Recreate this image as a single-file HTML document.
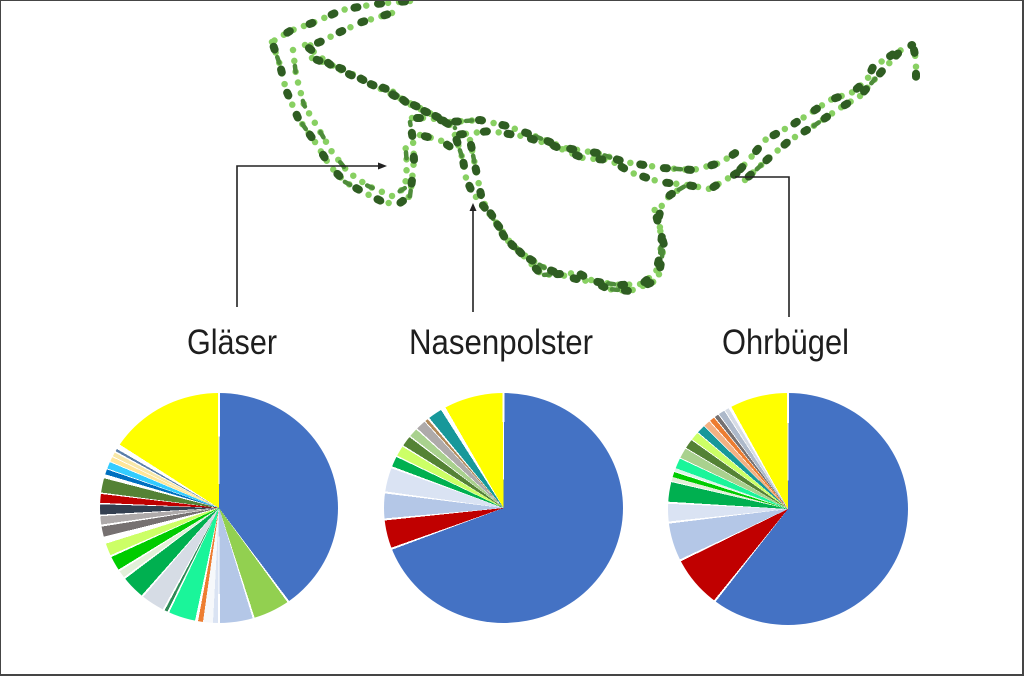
<!DOCTYPE html>
<html>
<head>
<meta charset="utf-8">
<style>
  html,body{margin:0;padding:0;background:#fff;}
  #wrap{position:relative;width:1024px;height:676px;overflow:hidden;background:#fff;}
  #frame{position:absolute;left:0;top:0;width:1021px;height:673px;border-style:solid;border-color:#454545;border-width:1px 2px 2px 1px;}
  .pie{position:absolute;border-radius:50%;}
  #p1{left:100px;top:393px;width:238px;height:230px;
    background:conic-gradient(from 0deg,
      #fff 0deg 0.6deg,#4472C4 0.6deg 143deg,#fff 143deg 144deg,
      #92D050 144deg 162deg,#fff 162deg 163deg,
      #B4C7E7 163deg 179.5deg,#fff 179.5deg 180.5deg,
      #DAE3F3 180.5deg 183deg,#F6F8FB 183deg 188deg,
      #ED7D31 188deg 190.5deg,#fff 190.5deg 192deg,
      #1AF59A 192deg 205.5deg,#fff 205.5deg 206.5deg,
      #2E8B57 206.5deg 208deg,#fff 208deg 209deg,
      #D6DCE5 209deg 220.5deg,#fff 220.5deg 221.5deg,
      #00B050 221.5deg 233deg,#fff 233deg 234deg,
      #E2F0D9 234deg 237.5deg,#fff 237.5deg 238.5deg,
      #00CC00 238.5deg 245.5deg,#fff 245.5deg 246.5deg,
      #CCFF66 246.5deg 252.5deg,#fff 252.5deg 256deg,
      #767171 256deg 261deg,#fff 261deg 262deg,
      #AEAAAA 262deg 266deg,#fff 266deg 266.8deg,
      #333F50 266.8deg 271.8deg,#fff 271.8deg 272.5deg,
      #C00000 272.5deg 276.8deg,#fff 276.8deg 277.5deg,
      #548235 277.5deg 284.5deg,#fff 284.5deg 286.5deg,
      #0070C0 286.5deg 289deg,#fff 289deg 289.5deg,
      #33CCFF 289.5deg 292.8deg,#fff 292.8deg 293.3deg,
      #FFE699 293.3deg 295.5deg,#fff 295.5deg 296deg,
      #F8E8A8 296deg 298deg,#fff 298deg 298.8deg,
      #5B7FA8 298.8deg 300deg,#fff 300deg 302.6deg,
      #FFFF00 302.6deg 359.4deg,#fff 359.4deg 360deg);}
  #p2{left:384px;top:393px;width:239px;height:230px;
    background:conic-gradient(from 0deg,
      #fff 0deg 0.5deg,#4472C4 0.5deg 249.5deg,#fff 249.5deg 250.5deg,
      #C00000 250.5deg 264deg,#fff 264deg 265deg,
      #B4C7E7 265deg 277deg,#fff 277deg 278deg,
      #DAE3F3 278deg 289.5deg,#fff 289.5deg 290.5deg,
      #00B050 290.5deg 295.5deg,#fff 295.5deg 296.2deg,
      #CCFF66 296.2deg 301.3deg,#fff 301.3deg 302deg,
      #548235 302deg 307deg,#fff 307deg 307.7deg,
      #A9D18E 307.7deg 312deg,#fff 312deg 312.7deg,
      #AEAAAA 312.7deg 317.5deg,#fff 317.5deg 318deg,
      #B0895A 318deg 319.5deg,#fff 319.5deg 320.5deg,
      #17989A 320.5deg 327.5deg,#fff 327.5deg 330deg,
      #FFFF00 330deg 359.5deg,#fff 359.5deg 360deg);}
  #p3{left:668px;top:393px;width:240px;height:232px;
    background:conic-gradient(from 0deg,
      #fff 0deg 0.5deg,#4472C4 0.5deg 218deg,#fff 218deg 219deg,
      #C00000 219deg 244deg,#fff 244deg 245deg,
      #B4C7E7 245deg 263deg,#fff 263deg 264deg,
      #DAE3F3 264deg 272.5deg,#fff 272.5deg 273.5deg,
      #00B050 273.5deg 283deg,#fff 283deg 283.5deg,
      #E2F0D9 283.5deg 285.5deg,#00CC00 285.5deg 288deg,
      #fff 288deg 288.5deg,#DDF5EA 288.5deg 290deg,
      #1AF59A 290deg 295deg,#fff 295deg 295.5deg,
      #A9D18E 295.5deg 300.5deg,#fff 300.5deg 301deg,
      #548235 301deg 305.5deg,#fff 305.5deg 306deg,
      #CCFF66 306deg 310deg,#fff 310deg 310.5deg,
      #17989A 310.5deg 314.5deg,#fff 314.5deg 315deg,
      #F4B183 315deg 318deg,#fff 318deg 318.5deg,
      #ED7D31 318.5deg 321deg,#fff 321deg 321.5deg,
      #767171 321.5deg 323.5deg,#fff 323.5deg 324deg,
      #ADB9CA 324deg 327deg,#fff 327deg 327.5deg,
      #D6DCE5 327.5deg 329.5deg,#fff 329.5deg 331deg,
      #FFFF00 331deg 359.5deg,#fff 359.5deg 360deg);}
  svg{position:absolute;left:0;top:0;}
  .l{fill:none;stroke:#88D062;stroke-width:6.5;stroke-linecap:round;stroke-linejoin:round;stroke-dasharray:0 11;}
  .d{fill:none;stroke:#2F5D22;stroke-width:8;stroke-linecap:round;stroke-dasharray:3 21;stroke-dashoffset:-5;}
  .m{fill:none;stroke:#4E8C3A;stroke-width:4.5;stroke-linecap:round;stroke-dasharray:6 30;stroke-dashoffset:-16;}
  .ln{fill:none;stroke:#222;stroke-width:1.6;}
  .t{font-family:"Liberation Sans",Arial,sans-serif;font-size:35px;fill:#1e1e1e;}
</style>
</head>
<body>
<div id="wrap">
  <div class="pie" id="p1"></div>
  <div class="pie" id="p2"></div>
  <div class="pie" id="p3"></div>

  <svg width="1024" height="676" viewBox="0 0 1024 676">
    <defs>
      <path id="A" d="M410,1 L375,4 L342,10 L315,22 L290,31 L272,42"/>
      <path id="B" d="M392,13 L362,22 L340,32 L320,42 L306,47"/>
      <path id="C" d="M272,42 L280,65 L286,90 L298,118 L315,142 L330,166 L345,182 L365,193 L385,203 L400,203 L410,196 L412,180 L414,160 L413,140 L410,122"/>
      <path id="C2" d="M293,50 L296,75 L304,105 L318,128 L332,152 L348,172 L368,186 L392,196 L405,188 L407,165 L405,140"/>
      <path id="D" d="M305,45 L332,66 L353,76 L375,86 L393,95 L420,108 L447,122"/>
      <path id="D2" d="M312,58 L345,70 L367,82 L392,91 L407,103 L433,115 L455,128"/>
      <path id="BR" d="M412,118 L430,118 L450,122 M420,135 L440,140 L452,148"/>
      <path id="E" d="M450,122 L480,120 L507,126 L532,135 L565,148 L597,153 L625,162 L663,168 L693,170 L720,163 L740,150"/>
      <path id="E2" d="M455,135 L490,131 L522,136 L552,145 L583,158 L610,160 L632,173 L660,182 L687,185 L710,189 L737,173"/>
      <path id="F" d="M455,135 L463,160 L466,178 L472,192 L485,208 L500,228 L512,245 L528,258 L545,268 L562,275 L580,280 L598,282 L620,285 L642,284 L656,272 L660,255 L662,235 L658,220 L662,205 L670,195 L685,186"/>
      <path id="F2" d="M470,140 L475,165 L482,200 L495,220 L505,238 L520,252 L542,275 L578,273 L608,289 L630,291 L658,280 L664,245 L652,200"/>
      <path id="G" d="M737,173 L753,155 L765,140 L792,125 L812,112 L830,100 L853,92 L867,80 L873,67 L895,53 L912,45"/>
      <path id="G2" d="M745,180 L770,157 L790,140 L812,127 L840,108 L860,96 L883,70 L903,48"/>
      <path id="H" d="M913,45 L916,60 L916,77"/>
    </defs>

    <g class="l">
      <use href="#A"/><use href="#B"/><use href="#C"/><use href="#C2"/><use href="#D"/><use href="#D2"/><use href="#BR"/>
      <use href="#E"/><use href="#E2"/><use href="#F"/><use href="#F2"/><use href="#G"/><use href="#G2"/><use href="#H"/>
    </g>
    <g class="m">
      <use href="#C"/><use href="#C2"/><use href="#D2"/><use href="#E"/><use href="#F"/><use href="#F2"/><use href="#G2"/>
    </g>
    <g class="d">
      <use href="#A"/><use href="#B"/><use href="#C"/><use href="#D"/><use href="#D2"/><use href="#BR"/>
      <use href="#E"/><use href="#E2"/><use href="#F"/><use href="#F2"/><use href="#G"/><use href="#G2"/><use href="#H"/>
    </g>

    <!-- leader lines -->
    <path class="ln" d="M237,307 L237,166 L380,166"/>
    <polygon points="387,166 378,162.5 378,169.5" fill="#222"/>
    <path class="ln" d="M473,312 L473,210"/>
    <polygon points="473,203 469.5,211 476.5,211" fill="#222"/>
    <path class="ln" d="M789,317 L789,177 L735,177"/>

    <!-- labels -->
    <text class="t" x="187" y="354" textLength="90" lengthAdjust="spacingAndGlyphs">Gläser</text>
    <text class="t" x="409" y="354" textLength="184" lengthAdjust="spacingAndGlyphs">Nasenpolster</text>
    <text class="t" x="722" y="354" textLength="127" lengthAdjust="spacingAndGlyphs">Ohrbügel</text>
  </svg>

  <div id="frame"></div>
</div>
</body>
</html>
